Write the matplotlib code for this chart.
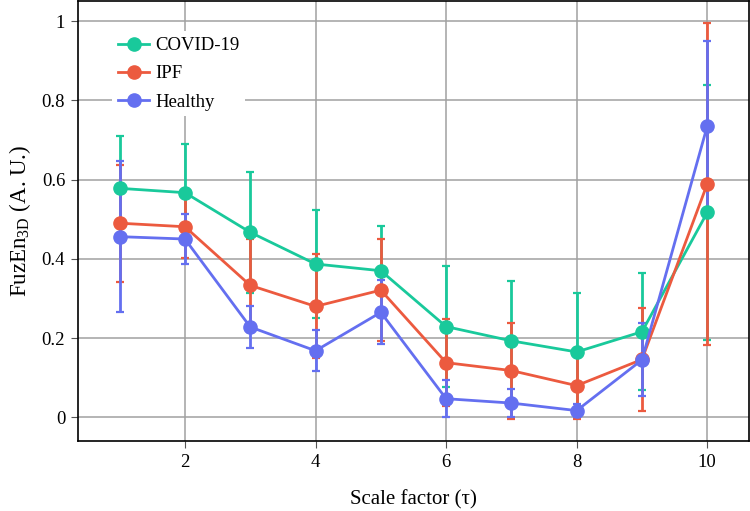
"""FuzEn3D vs scale factor for COVID-19, IPF and healthy groups."""

import matplotlib.pyplot as plt
from matplotlib.lines import Line2D
import numpy as np

# Data
scale = [1, 2, 3, 4, 5, 6, 7, 8, 9, 10]

covid_mean = [0.578, 0.567, 0.467, 0.387, 0.370, 0.229, 0.193, 0.165, 0.216, 0.517]
covid_err = [0.133, 0.122, 0.152, 0.136, 0.113, 0.152, 0.152, 0.149, 0.148, 0.321]

ipf_mean = [0.490, 0.481, 0.333, 0.280, 0.321, 0.138, 0.118, 0.080, 0.146, 0.589]
ipf_err = [0.148, 0.080, 0.118, 0.131, 0.129, 0.110, 0.121, 0.085, 0.130, 0.406]

healthy_mean = [0.456, 0.450, 0.228, 0.168, 0.265, 0.047, 0.036, 0.017, 0.145, 0.735]
healthy_err = [0.190, 0.063, 0.054, 0.052, 0.081, 0.047, 0.035, 0.017, 0.092, 0.214]

series = [
    ("COVID-19", covid_mean, covid_err, "#19c99b"),
    ("IPF", ipf_mean, ipf_err, "#ec5a3f"),
    ("Healthy", healthy_mean, healthy_err, "#646ff0"),
]

plt.rcParams['font.family'] = ['Liberation Serif', 'DejaVu Serif']
plt.rcParams['mathtext.fontset'] = 'custom'
plt.rcParams['mathtext.rm'] = 'Liberation Serif'

fig = plt.figure(figsize=(7.5, 5.11), dpi=100)
ax = fig.add_axes([0.1036, 0.1364, 0.8951, 0.8626])

handles = []
for name, mean, err, col in series:
    ax.errorbar(scale, mean, yerr=err, color=col, ecolor=col, lw=2,
                elinewidth=2, capsize=3.2, capthick=1.6, marker='o',
                markersize=9.5, zorder=3)
    handles.append(Line2D([], [], color=col, lw=2, marker='o',
                          markersize=9.5, label=name))

ax.set_xlim(0.357, 10.64)
ax.set_ylim(-0.0605, 1.052)
ax.set_xticks([2, 4, 6, 8, 10])
ax.set_yticks([0, 0.2, 0.4, 0.6, 0.8, 1.0])
ax.set_yticklabels(['0', '0.2', '0.4', '0.6', '0.8', '1'])
ax.grid(True, color='#a0a0a0', lw=1.1, zorder=0)
ax.set_axisbelow(True)
for sp in ax.spines.values():
    sp.set_color('black')
    sp.set_linewidth(1.2)
ax.tick_params(axis='both', direction='out', length=5, color='#555555',
               labelsize=13.5, pad=4)

ax.set_xlabel('Scale factor (τ)', fontsize=15, labelpad=14)
ax.set_ylabel('FuzEn$_{\\mathrm{3D}}$ (A. U.)', fontsize=16.5, labelpad=6)

leg = ax.legend(handles=handles, loc='upper left',
                bbox_to_anchor=(0.051, 0.93), frameon=True,
                fontsize=13.5, handlelength=1.7, labelspacing=0.6,
                borderpad=0.3, handletextpad=0.3, borderaxespad=0)
leg.get_frame().set_facecolor('white')
leg.get_frame().set_edgecolor('none')
leg.get_frame().set_alpha(1.0)

fig.savefig('out.png', dpi=100)
